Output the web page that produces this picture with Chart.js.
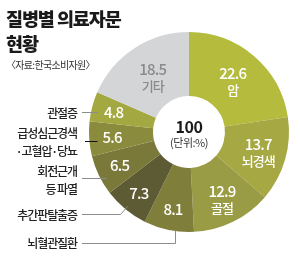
<!DOCTYPE html>
<html>
<head>
<meta charset="utf-8">
<script src="https://cdn.jsdelivr.net/npm/chart.js@4.4.1/dist/chart.umd.min.js"></script>
<style>
  body{margin:0;background:#fff;}
  #wrap{position:relative;width:300px;height:273px;overflow:hidden;}
  #myChart{position:absolute;left:0;top:0;}
  .title{position:absolute;left:6px;top:6px;font-family:"Noto Sans CJK KR";font-weight:900;font-size:18.5px;letter-spacing:-1.1px;line-height:25px;color:#1a1a1a;}
  .src{position:absolute;left:6px;top:57px;font-family:"Noto Sans CJK KR";font-size:10px;letter-spacing:-0.7px;color:#333;}
</style>
</head>
<body>
<div id="wrap">
  <canvas id="myChart" width="300" height="273"></canvas>
  <div class="title">질병별 의료자문<br>현황</div>
  <div class="src">〈자료:한국소비자원〉</div>
</div>
<script>
// DATA (단위: %)
var categories = ['암', '뇌경색', '골절', '뇌혈관질환', '추간판탈출증', '회전근개 등 파열', '급성심근경색·고혈압·당뇨', '관절증', '기타'];
var shares = [22.6, 13.7, 12.9, 8.1, 7.3, 6.5, 5.6, 4.8, 18.5];
var totalLabel = '100';
var unitLabel = '(단위:%)';

var sliceColors = ['#b5bc3d', '#a6a843', '#999b45', '#7f7e3a', '#5c5b34', '#7a793a', '#8b8b3e', '#a4a841', '#d4d5d7'];
// which slices carry their name inside
var nameInside = [true, true, true, false, false, false, false, false, true];
var labelRadius = [67, 72, 75, 79, 79, 77, 77, 78, 66];

// left side labels: text lines, right edge x, first baseline y, leader path
var sideLabels = [
  {idx: 7, lines: ['관절증'], x: 77, y: 113, path: [[82, 112], [97, 112]], color: '#8c8c8c'},
  {idx: 6, lines: ['급성심근경색', '·고혈압·당뇨'], x: 77, y: 133, path: [[85, 141], [97, 141]], color: '#111'},
  {idx: 5, lines: ['회전근개', '등 파열'], x: 77, y: 171, path: [[82, 178], [106, 178]], color: '#8c8c8c'},
  {idx: 4, lines: ['추간판탈출증'], x: 77, y: 215, path: [[82, 214], [120, 214], [127, 206]], color: '#8c8c8c'},
  {idx: 3, lines: ['뇌혈관질환'], x: 77, y: 243, path: [[82, 243], [175, 243], [175, 230]], color: '#8c8c8c'}
];

var FONT = '"Noto Sans CJK KR", "Noto Sans", sans-serif';

var labelPlugin = {
  id: 'sliceLabels',
  afterDraw: function (chart) {
    var ctx = chart.ctx;
    var meta = chart.getDatasetMeta(0);
    ctx.save();
    ctx.textAlign = 'center';
    ctx.textBaseline = 'middle';
    meta.data.forEach(function (arc, i) {
      var mid = (arc.startAngle + arc.endAngle) / 2;
      var r = labelRadius[i];
      var x = arc.x + r * Math.cos(mid);
      var y = arc.y + r * Math.sin(mid);
      ctx.fillStyle = i === 8 ? '#8a8a8a' : '#ffffff';
      ctx.letterSpacing = '-0.8px';
      ctx.font = '500 15px ' + FONT;
      if (nameInside[i]) {
        ctx.fillText(String(shares[i]), x, y - 8);
        ctx.letterSpacing = '-1px';
        ctx.font = '500 13px ' + FONT;
        ctx.fillText(categories[i], x, y + 9);
      } else {
        ctx.fillText(String(shares[i]), x, y);
      }
    });

    // centre
    var c = meta.data[0];
    ctx.fillStyle = '#1a1a1a';
    ctx.letterSpacing = '-0.5px';
    ctx.font = 'bold 16px ' + FONT;
    ctx.fillText(totalLabel, c.x, c.y - 5);
    ctx.fillStyle = '#333';
    ctx.font = '11px ' + FONT;
    ctx.fillText(unitLabel, c.x, c.y + 11);

    // side labels + leader lines
    ctx.textAlign = 'right';
    sideLabels.forEach(function (s) {
      ctx.fillStyle = '#222';
      ctx.letterSpacing = '-1.1px';
      ctx.font = '500 12px ' + FONT;
      s.lines.forEach(function (t, k) {
        ctx.fillText(t, s.x, s.y + k * 18);
      });
      ctx.beginPath();
      ctx.strokeStyle = s.color;
      ctx.lineWidth = 1;
      s.path.forEach(function (p, k) {
        if (k === 0) ctx.moveTo(p[0], p[1] + 0.5);
        else ctx.lineTo(p[0] + 0.5, p[1] + 0.5);
      });
      ctx.stroke();
    });
    ctx.restore();
  }
};

var config = {
  type: 'doughnut',
  data: {
    labels: categories,
    datasets: [{
      data: shares,
      backgroundColor: sliceColors,
      borderWidth: 0
    }]
  },
  options: {
    responsive: false,
    animation: false,
    devicePixelRatio: 1,
    cutout: 36,
    layout: {padding: {left: 89, right: 11, top: 32, bottom: 41}},
    plugins: {
      legend: {display: false},
      tooltip: {enabled: false}
    }
  },
  plugins: [labelPlugin]
};

var myChart = new Chart(document.getElementById('myChart'), config);
</script>
</body>
</html>
